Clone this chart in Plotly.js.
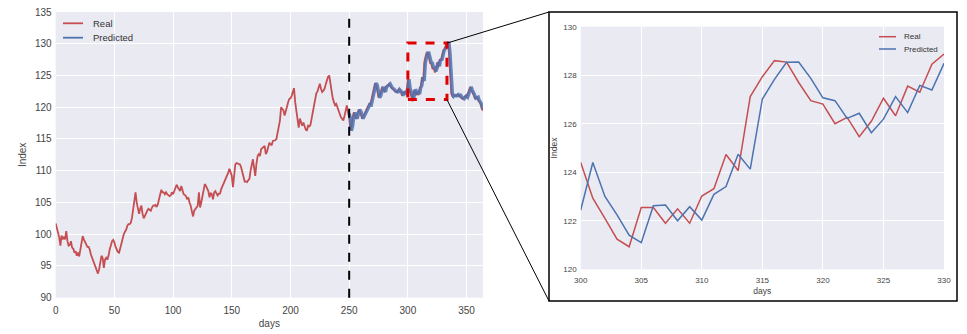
<!DOCTYPE html>
<html>
<head>
<meta charset="utf-8">
<script src="https://cdn.plot.ly/plotly-3.0.1.min.js"></script>
<style>html,body{margin:0;padding:0;background:#fff;}#chart{width:967px;height:334px;}</style>
</head>
<body>
<div id="chart"></div>
<script>
// Real index, days 0..364
const realValues = [
101.7,101.0,100.5,99.5,98.2,99.8,99.2,99.5,99.2,100.5,
98.9,98.2,98.3,98.9,97.9,97.7,97.1,97.3,96.6,97.1,
96.5,97.8,98.7,99.7,99.2,98.7,98.3,98.0,98.0,97.6,
96.8,96.3,95.8,95.3,94.7,94.2,93.8,94.5,96.0,96.6,
96.3,94.7,96.0,96.3,96.0,96.6,97.6,98.3,98.9,99.1,
98.7,98.0,97.6,97.2,97.1,97.9,98.7,99.5,100.0,100.4,
100.7,101.3,101.6,101.6,101.8,102.6,104.0,105.5,106.6,105.0,
104.0,103.2,104.0,104.5,103.2,102.5,102.9,103.4,103.7,104.0,
103.9,103.7,104.2,104.5,104.5,104.6,104.3,104.7,105.5,106.6,
107.0,106.6,106.6,106.3,106.6,106.3,106.2,106.0,106.1,106.6,
106.3,106.8,107.5,107.8,107.4,107.0,106.8,107.6,107.0,106.3,
106.2,106.0,105.5,105.8,105.0,104.5,103.6,102.8,103.7,104.0,
104.2,104.5,106.6,104.2,105.0,106.0,107.4,107.9,107.6,107.2,
106.8,105.8,106.5,106.3,105.5,106.6,106.8,106.4,106.1,106.4,
106.4,107.1,107.5,107.9,108.4,108.8,109.2,109.7,110.3,109.8,
109.2,107.4,110.0,111.0,111.2,111.1,111.1,111.0,110.5,109.8,
109.0,108.3,108.3,108.2,108.5,108.7,110.0,111.2,111.8,110.5,
109.2,111.1,112.3,112.6,112.3,113.4,113.6,113.7,113.9,112.6,
113.0,113.7,114.4,114.2,114.0,114.7,114.7,114.8,115.0,115.8,
117.0,117.9,120.0,119.8,119.5,118.7,119.5,120.0,120.8,121.3,
121.4,121.8,122.6,123.0,120.8,119.5,118.3,116.8,118.2,117.4,
117.1,117.6,116.9,116.5,116.3,117.1,117.0,117.2,118.2,119.3,
120.1,121.0,122.2,122.5,123.2,123.7,122.9,122.4,122.6,122.9,
123.6,124.2,124.8,125.0,123.8,122.3,121.4,120.8,120.3,120.5,
120.0,119.5,118.8,118.4,118.2,117.9,118.6,119.5,120.3,119.2,
118.4,116.3,117.0,118.5,119.2,118.5,118.2,119.0,119.6,119.4,
118.9,118.2,118.6,119.0,119.5,119.7,120.1,120.5,120.4,121.2,
122.0,122.8,123.8,123.5,122.4,121.5,121.8,122.4,123.2,122.7,
122.4,123.2,123.3,123.5,123.7,123.3,123.0,122.9,122.6,122.5,
122.4,122.4,122.8,122.6,122.4,121.8,122.3,122.4,122.1,122.8,
124.4,122.93,122.1,121.24,120.93,122.55,122.55,121.9,122.49,121.9,
123.02,123.32,124.73,124.07,127.12,127.94,128.6,128.54,127.7,126.95,
126.81,126.0,126.26,125.47,126.1,127.05,126.33,127.55,127.3,128.45,
128.87,129.2,129.6,130.0,130.3,128.5,124.5,122.1,121.7,121.9,
121.8,121.8,122.0,121.8,121.9,121.5,121.4,121.3,121.6,121.8,
121.6,122.2,122.8,123.2,122.7,122.4,121.9,121.4,121.5,121.6,
121.0,120.8,120.4,119.7,119.5
];
// Predicted index, days 250..364
const predStartDay = 250;
const predictedValues = [
119.0,118.4,116.3,117.0,118.5,119.2,118.5,118.2,119.0,119.6,
119.4,118.9,118.2,118.6,119.0,119.5,119.7,120.1,120.5,120.4,
121.2,122.0,122.8,123.8,123.5,122.4,121.5,121.8,122.4,123.2,
122.7,122.4,123.2,123.3,123.5,123.7,123.3,123.0,122.9,122.6,
122.5,122.4,122.4,122.8,122.6,122.4,121.8,122.3,122.4,122.1,
122.44,124.4,123.0,122.24,121.41,121.1,122.62,122.65,122.0,122.58,
122.03,123.09,123.41,124.74,124.13,127.02,127.83,128.53,128.54,127.87,
127.07,126.95,126.22,126.43,125.63,126.19,127.12,126.46,127.58,127.39,
128.49,128.9,129.2,129.6,130.0,130.3,128.5,124.5,122.1,121.7,
121.9,121.8,121.8,122.0,121.8,121.9,121.5,121.4,121.3,121.6,
121.8,121.6,122.2,122.8,123.2,122.7,122.4,121.9,121.4,121.5,
121.6,121.0,120.8,120.4,119.7
];
const splitDay = 250;
const zoomStart = 300, zoomEnd = 330;
const mainXTicks = [0,50,100,150,200,250,300,350];
const mainYTicks = [90,95,100,105,110,115,120,125,130,135];
const insetXTicks = [300,305,310,315,320,325,330];
const insetYTicks = [120,122,124,126,128,130];
const seriesNames = ["Real", "Predicted"];

const realDays = realValues.map((_, i) => i);
const predDays = predictedValues.map((_, i) => predStartDay + i);
const inZoom = d => d >= zoomStart && d <= zoomEnd;

const RED = "#C44E52", BLUE = "#4C72B0";
const FONT = "Liberation Sans, Arial, sans-serif";
const TXT = "#444";

const traces = [
  {x: realDays, y: realValues, type: "scatter", mode: "lines", name: seriesNames[0],
   line: {color: RED, width: 1.8}, xaxis: "x", yaxis: "y"},
  {x: predDays, y: predictedValues, type: "scatter", mode: "lines", name: seriesNames[1],
   line: {color: "rgba(76,114,176,0.85)", width: 3.2}, xaxis: "x", yaxis: "y"},
  {x: realDays.filter(inZoom), y: realValues.filter((_, i) => inZoom(realDays[i])),
   type: "scatter", mode: "lines", name: seriesNames[0],
   line: {color: RED, width: 1.5}, xaxis: "x2", yaxis: "y2"},
  {x: predDays.filter(inZoom), y: predictedValues.filter((_, i) => inZoom(predDays[i])),
   type: "scatter", mode: "lines", name: seriesNames[1],
   line: {color: BLUE, width: 1.5}, xaxis: "x2", yaxis: "y2"}
];

const W = 967, H = 334;
const px = x => x / W, py = y => 1 - y / H;
const mainXDom = [px(55.7), px(483)], mainYDom = [py(297.7), py(12)];
const mainXRange = [0, 364], mainYRange = [90, 135];
const insXDom = [px(580.7), px(944)], insYDom = [py(269.3), py(26.7)];

function toPaperX(d) { return mainXDom[0] + (d - mainXRange[0]) / (mainXRange[1] - mainXRange[0]) * (mainXDom[1] - mainXDom[0]); }
function toPaperY(v) { return mainYDom[0] + (v - mainYRange[0]) / (mainYRange[1] - mainYRange[0]) * (mainYDom[1] - mainYDom[0]); }

const boxX1 = 333.3, boxY0 = 121.2, boxY1 = 130.1;
const frame = {x0: px(549), x1: px(957), y0: py(301), y1: py(12)};

const axisCommon = {
  showgrid: true, gridcolor: "#ffffff", gridwidth: 1, zeroline: false,
  showline: false, ticks: ""
};

// Legend boxes (positions of the legend entries, in pixels)
const legends = [
  {x0: 63, x1: 83, tx: 91, rows: [23.3, 37.7], size: 9.5, widths: [1.8, 1.8]},
  {x0: 879, x1: 896, tx: 902, rows: [36.7, 49], size: 8, widths: [1.5, 1.5]}
];
const legendShapes = [], legendAnns = [];
legends.forEach(L => {
  [RED, BLUE].forEach((c, k) => {
    legendShapes.push({type: "line", xref: "paper", yref: "paper", x0: px(L.x0), x1: px(L.x1),
      y0: py(L.rows[k]), y1: py(L.rows[k]), line: {color: c, width: L.widths[k]}});
    legendAnns.push({xref: "paper", yref: "paper", x: px(L.tx), y: py(L.rows[k]), xanchor: "left", yanchor: "middle",
      text: seriesNames[k], showarrow: false, font: {family: FONT, size: L.size, color: "#333"}});
  });
});

const layout = {
  width: W, height: H,
  margin: {l: 0, r: 0, t: 0, b: 0},
  paper_bgcolor: "#ffffff", plot_bgcolor: "#EAEAF2",
  font: {family: FONT, color: TXT},
  showlegend: false,
  xaxis: Object.assign({}, axisCommon, {domain: mainXDom, range: mainXRange, tickvals: mainXTicks,
    tickfont: {family: FONT, size: 10, color: TXT}, ticklabelstandoff: 5,
    title: {text: "days", font: {family: FONT, size: 10, color: TXT}, standoff: 5}, anchor: "y"}),
  yaxis: Object.assign({}, axisCommon, {domain: mainYDom, range: mainYRange, tickvals: mainYTicks,
    tickfont: {family: FONT, size: 10, color: TXT}, ticklabelstandoff: 3,
    title: {text: "Index", font: {family: FONT, size: 10, color: TXT}, standoff: 6}, anchor: "x"}),
  xaxis2: Object.assign({}, axisCommon, {domain: insXDom, range: [zoomStart, zoomEnd], tickvals: insetXTicks,
    tickfont: {family: FONT, size: 8, color: TXT}, ticklabelstandoff: 5,
    title: {text: "days", font: {family: FONT, size: 8.5, color: TXT}, standoff: 3}, anchor: "y2"}),
  yaxis2: Object.assign({}, axisCommon, {domain: insYDom, range: [120, 130], tickvals: insetYTicks,
    tickfont: {family: FONT, size: 8, color: TXT}, ticklabelstandoff: 3,
    title: {text: "Index", font: {family: FONT, size: 8.5, color: TXT}, standoff: 4}, anchor: "x2"}),
  annotations: legendAnns,
  shapes: [
    {type: "line", xref: "x", yref: "paper", x0: splitDay, x1: splitDay, y0: mainYDom[0], y1: mainYDom[1],
     line: {color: "#000", width: 2, dash: "dash"}},
    {type: "rect", xref: "x", yref: "y", x0: zoomStart, x1: boxX1, y0: boxY0, y1: boxY1,
     line: {color: "#E00000", width: 3, dash: "dash"}},
    {type: "rect", xref: "paper", yref: "paper", x0: frame.x0, x1: frame.x1, y0: frame.y0, y1: frame.y1,
     line: {color: "#000", width: 1.5}},
    {type: "line", xref: "paper", yref: "paper", x0: toPaperX(boxX1), y0: toPaperY(boxY1), x1: frame.x0, y1: frame.y1,
     line: {color: "#000", width: 1}},
    {type: "line", xref: "paper", yref: "paper", x0: toPaperX(boxX1), y0: toPaperY(boxY0), x1: frame.x0, y1: frame.y0,
     line: {color: "#000", width: 1}}
  ].concat(legendShapes)
};

Plotly.newPlot("chart", traces, layout, {displayModeBar: false, staticPlot: true});
</script>
</body>
</html>
